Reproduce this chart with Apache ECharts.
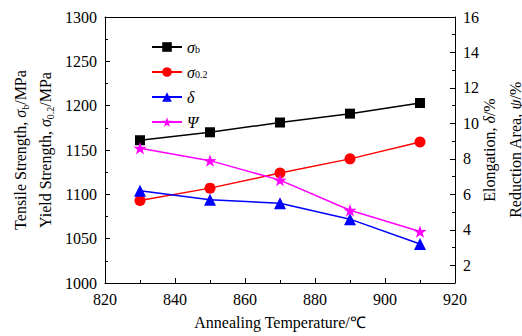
<!DOCTYPE html>
<html>
<head>
<meta charset="utf-8">
<script src="https://cdn.jsdelivr.net/npm/echarts@6/dist/echarts.min.js"></script>
<style>html,body{margin:0;padding:0;background:#fff}#c{width:522px;height:336px}</style>
</head>
<body>
<div id="c"></div>
<script>
const temps = [830, 850, 870, 890, 910];
const sigmaB = [1161, 1170, 1181, 1191, 1203];
const sigma02 = [1093, 1107, 1124, 1140, 1159];
const delta = [6.2, 5.7, 5.5, 4.6, 3.2];
const psi = [8.6, 7.9, 6.8, 5.1, 3.9];
const rightMajor = [2, 4, 6, 8, 10, 12, 14, 16];
const rightMinor = [3, 5, 7, 9, 11, 13, 15];
const seriesNames = ['σb', 'σ0.2', 'δ', 'Ψ'];

const FONT = 'Liberation Serif';
const star = 'path://M50 0L61.76 33.82L97.55 34.55L69.02 56.18L79.39 90.45L50 70L20.61 90.45L30.98 56.18L2.45 34.55L38.24 33.82Z';
const pairs = (ys) => temps.map((t, i) => [t, ys[i]]);

const rich = {
  t: { fontFamily: FONT, fontSize: 16, color: '#000', lineHeight: 20 },
  i: { fontFamily: FONT, fontSize: 16, fontStyle: 'italic', color: '#000', lineHeight: 20 },
  s: { fontFamily: FONT, fontSize: 10, color: '#000', lineHeight: 20, verticalAlign: 'bottom' }
};
const legendRich = {
  i: { fontFamily: FONT, fontSize: 16, fontStyle: 'italic', color: '#000', lineHeight: 14 },
  s: { fontFamily: FONT, fontSize: 10, color: '#000', lineHeight: 14, verticalAlign: 'bottom' }
};
const label = (extra) => Object.assign({ color: '#000', fontFamily: FONT, fontSize: 16 }, extra || {});
const blackLine = () => ({ show: true, lineStyle: { color: '#000', width: 1 } });
const majorTick = (extra) => Object.assign({ show: true, inside: true, length: 5, lineStyle: { color: '#000', width: 1 } }, extra || {});
const minorTickCfg = () => ({ show: true, splitNumber: 2, length: 3, lineStyle: { color: '#000', width: 1 } });

const chart = echarts.init(document.getElementById('c'), null, { renderer: 'svg' });

chart.setOption({
  animation: false,
  legend: {
    orient: 'vertical', left: 146, top: 34, itemWidth: 30, itemHeight: 12, itemGap: 9,
    data: seriesNames,
    formatter: (n) => {
      if (n === 'σb') return '{i|σ}{s|b}';
      if (n === 'σ0.2') return '{i|σ}{s|0.2}';
      return '{i|' + n + '}';
    },
    textStyle: { fontFamily: FONT, fontSize: 16, color: '#000', rich: legendRich }
  },
  grid: { left: 105, right: 67, top: 17, bottom: 53 },
  xAxis: [
    {
      type: 'value', min: 820, max: 920, interval: 20,
      axisLine: blackLine(), axisTick: majorTick(), minorTick: minorTickCfg(), splitLine: { show: false },
      axisLabel: label()
    },
    {
      type: 'value', min: 820, max: 920, interval: 20, position: 'top',
      axisLine: blackLine(), axisTick: { show: false }, splitLine: { show: false }, axisLabel: { show: false }
    }
  ],
  yAxis: [
    {
      type: 'value', min: 1000, max: 1300, interval: 50, position: 'left',
      axisLine: blackLine(), axisTick: majorTick(), minorTick: minorTickCfg(), splitLine: { show: false },
      axisLabel: label({ formatter: (v) => String(v) })
    },
    {
      type: 'value', min: 1, max: 16, interval: 1, position: 'right',
      axisLine: blackLine(), axisTick: majorTick({ customValues: rightMajor }), splitLine: { show: false },
      axisLabel: label({ customValues: rightMajor })
    },
    {
      type: 'value', min: 1, max: 16, interval: 1, position: 'right',
      axisLine: { show: false },
      axisTick: { show: true, inside: true, length: 3, lineStyle: { color: '#000', width: 1 }, customValues: rightMinor },
      splitLine: { show: false }, axisLabel: { show: false }
    }
  ],
  graphic: [
    { type: 'text', x: 20, y: 150, rotation: Math.PI / 2,
      style: { text: '{t|Tensile Strength, }{i|σ}{s|b}{t|/MPa}', rich: rich, align: 'center', verticalAlign: 'middle' } },
    { type: 'text', x: 45, y: 150, rotation: Math.PI / 2,
      style: { text: '{t|Yield Strength, }{i|σ}{s|0.2}{t|/MPa}', rich: rich, align: 'center', verticalAlign: 'middle' } },
    { type: 'text', x: 489, y: 150, rotation: Math.PI / 2,
      style: { text: '{t|Elongation, }{i|δ}{t|/%}', rich: rich, align: 'center', verticalAlign: 'middle' } },
    { type: 'text', x: 515, y: 150, rotation: Math.PI / 2,
      style: { text: '{t|Reduction Area, }{i|ψ}{t|/%}', rich: rich, align: 'center', verticalAlign: 'middle' } },
    { type: 'text', x: 280, y: 322,
      style: { text: '{t|Annealing Temperature/℃}', rich: rich, align: 'center', verticalAlign: 'middle' } }
  ],
  series: [
    { name: 'σb', type: 'line', yAxisIndex: 0, data: pairs(sigmaB), symbol: 'rect', symbolSize: 10,
      itemStyle: { color: '#000' }, lineStyle: { color: '#000', width: 1.5 } },
    { name: 'σ0.2', type: 'line', yAxisIndex: 0, data: pairs(sigma02), symbol: 'circle', symbolSize: 11,
      itemStyle: { color: '#ff0000' }, lineStyle: { color: '#ff0000', width: 1.5 } },
    { name: 'δ', type: 'line', yAxisIndex: 1, data: pairs(delta), symbol: 'triangle', symbolSize: 12,
      itemStyle: { color: '#0000ff' }, lineStyle: { color: '#0000ff', width: 1.5 } },
    { name: 'Ψ', type: 'line', yAxisIndex: 1, data: pairs(psi), symbol: star, symbolSize: 13, symbolKeepAspect: true,
      itemStyle: { color: '#ff00ff' }, lineStyle: { color: '#ff00ff', width: 1.5 } }
  ]
});
</script>
</body>
</html>
